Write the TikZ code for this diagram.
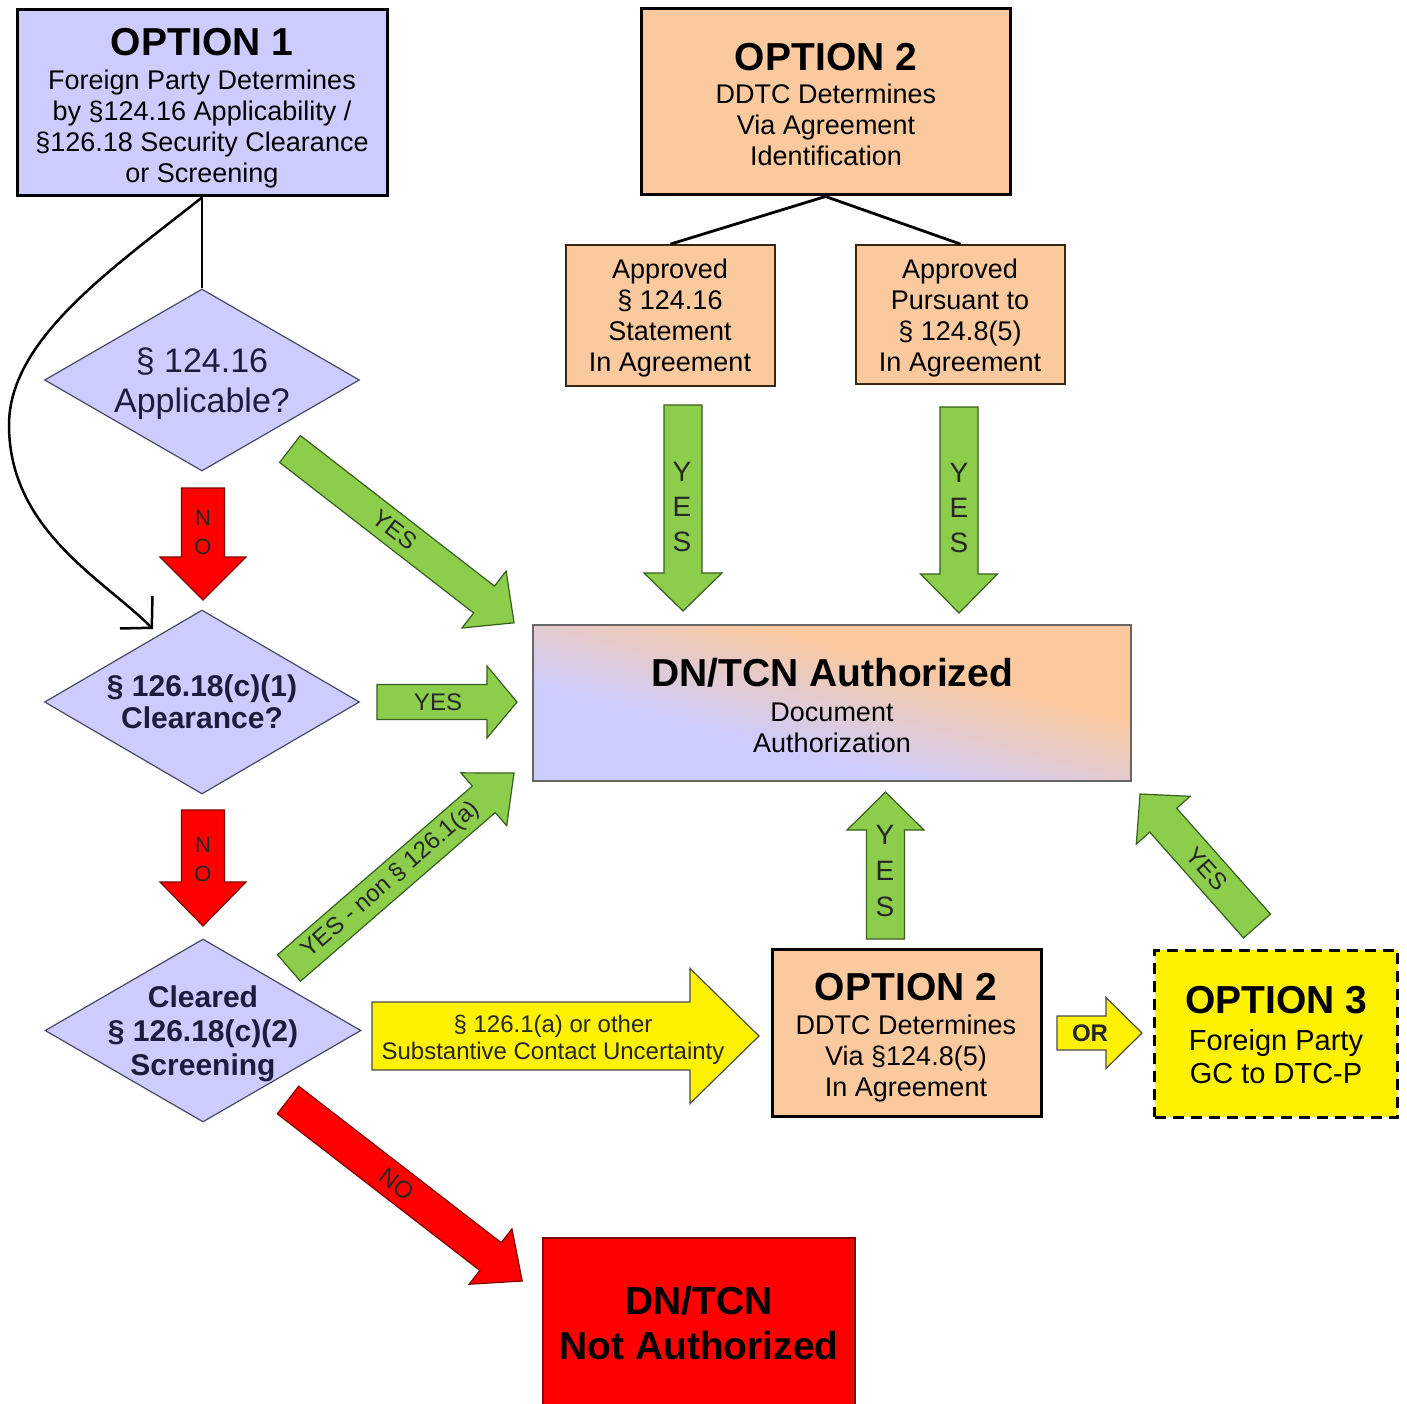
\documentclass[tikz,border=0pt]{standalone}
\usepackage{fontspec}
\setmainfont{Liberation Sans}
\usetikzlibrary{shapes.geometric,arrows.meta}
\definecolor{lav}{RGB}{204,204,255}
\definecolor{peach}{RGB}{251,201,158}
\definecolor{grn}{RGB}{140,205,75}
\definecolor{grnd}{RGB}{55,95,30}
\definecolor{redd}{RGB}{130,0,0}
\definecolor{navy}{RGB}{28,28,60}
\pgfdeclareverticalshading{authshade}{100bp}{color(0bp)=(lav); color(38bp)=(lav); color(50bp)=(lav!50!peach); color(62bp)=(peach); color(100bp)=(peach)}
\newcommand\fs[2]{\fontsize{#1}{#2}\selectfont}
% #1 name, #2 style, #3 tail centre, #4 angle, #5 length, #6 shaft half width, #7 head half width, #8 head length
\newcommand\blockarrow[8]{%
  \begin{scope}[shift={#3},rotate=#4]
    \path[#2] (0,#6) -- ({#5-#8},#6) -- ({#5-#8},#7) -- (#5,0) -- ({#5-#8},-#7) -- ({#5-#8},-#6) -- (0,-#6) -- cycle;
    \coordinate (#1) at ({(#5-#8)/2},0);
  \end{scope}}
\begin{document}
\begin{tikzpicture}[x=1pt,y=-1pt,
  obox/.style={draw=black,line width=3pt,fill=#1,inner sep=0pt},
  sbox/.style={draw=black!70!brown,line width=1.8pt,fill=peach,inner sep=0pt},
  dia/.style={diamond,draw=navy!80,line width=1.2pt,fill=lav,inner sep=0pt},
  txt/.style={anchor=north,inner sep=0pt,align=center,text=black},
  dtxt/.style={anchor=north,inner sep=0pt,align=center,text=navy},
  lbl/.style={inner sep=0pt,align=center,text=black!85},
  garrow/.style={fill=grn,draw=grnd,line width=1.2pt},
  rarrow/.style={fill=red,draw=redd,line width=1.2pt},
  yarrow/.style={fill=yellow,draw=black!70,line width=1.2pt},
  ln/.style={draw=black,line width=2.8pt}]

\path[use as bounding box,fill=white] (0,0) rectangle (1407,1404);
\clip (0,0) rectangle (1407,1404);

% ---------- boxes ----------
\node[obox=lav,minimum width=370,minimum height=186] (opt1) at (202,103) {};
\node[obox=peach,minimum width=369,minimum height=186] (opt2) at (825.5,102) {};
\node[sbox,minimum width=209,minimum height=141] (sub1) at (670.5,315.5) {};
\node[sbox,minimum width=209,minimum height=139] (sub2) at (960.5,314.5) {};
\node[draw=black!60,line width=1.5pt,inner sep=0pt,minimum width=598,minimum height=156,
      shade,shading=authshade,shading angle=-14.6] (auth) at (832,703) {};
\node[obox=peach,minimum width=269,minimum height=167] (opt2b) at (906.5,1032.5) {};
\node[obox=yellow,dash pattern=on 11pt off 7pt,minimum width=243,minimum height=167] (opt3) at (1276,1033.5) {};
\node[draw=redd,line width=2pt,fill=red,inner sep=0pt,minimum width=312,minimum height=170] (nauth) at (699,1323) {};

% ---------- diamonds ----------
\node[dia,minimum width=315,minimum height=182] (d1) at (202,380) {};
\node[dia,minimum width=315,minimum height=184] (d2) at (202,702) {};
\node[dia,minimum width=316,minimum height=183] (d3) at (203,1030.5) {};

% ---------- connectors ----------
\draw[ln] (opt1.south) -- (d1.north);
\draw[ln] (opt2.south) -- (sub1.north);
\draw[ln] (opt2.south) -- (sub2.north);
\coordinate (cend) at (153,629);
\draw[line width=2.5pt,-{Straight Barb[length=22pt,width=46pt]}]
  (opt1.south) .. controls (110,270) and (9,340) .. (9,425)
  .. controls (9,530) and (103,579) .. (cend);

% ---------- box texts ----------
\node[txt,font=\fs{27}{31}] (opt1t) at (202,28)
  {{\fs{39}{44}\bfseries OPTION 1}\\[3pt]Foreign Party Determines\\by §124.16 Applicability /\\§126.18 Security Clearance\\or Screening};
\node[txt,font=\fs{27}{31}] (opt2t) at (826,43)
  {{\fs{39}{44}\bfseries OPTION 2}\\[1.7pt]DDTC Determines\\Via Agreement\\Identification};
\node[txt,font=\fs{27}{31}] (sub1t) at (670,259) {Approved\\§ 124.16\\Statement\\In Agreement};
\node[txt,font=\fs{27}{31}] (sub2t) at (960,258.5) {Approved\\Pursuant to\\§ 124.8(5)\\In Agreement};
\node[txt,font=\fs{27}{31}] (autht) at (832,658)
  {{\fs{39}{44}\bfseries DN/TCN Authorized}\\[3.7pt]Document\\Authorization};
\node[txt,font=\fs{27}{31}] (opt2bt) at (906,973)
  {{\fs{39}{44}\bfseries OPTION 2}\\[2.7pt]DDTC Determines\\Via §124.8(5)\\In Agreement};
\node[txt,font=\fs{29}{33}] (opt3t) at (1276,986)
  {{\fs{39}{44}\bfseries OPTION 3}\\[4.4pt]Foreign Party\\GC to DTC-P};
\node[txt,font=\fs{39}{45}\bfseries] (nautht) at (699,1286) {DN/TCN\\Not Authorized};

% ---------- diamond texts ----------
\node[dtxt,font=\fs{34}{40}] (d1t) at (202,348) {§ 124.16\\Applicable?};
\node[dtxt,font=\fs{30}{32}\bfseries] (d2t) at (202,675) {§ 126.18(c)(1)\\Clearance?};
\node[dtxt,font=\fs{30}{34}\bfseries] (d3t) at (203,986) {Cleared\\§ 126.18(c)(2)\\Screening};

% ---------- block arrows ----------
\blockarrow{noA}{rarrow}{(203,488)}{-90}{112}{21.5}{43}{43}
\blockarrow{yesA}{garrow}{(290,449)}{-37.8}{283.6}{17}{36}{38}
\blockarrow{yesB}{garrow}{(377,702)}{0}{140}{17.5}{36}{30}
\blockarrow{noB}{rarrow}{(203,810)}{-90}{116}{21.5}{43}{44}
\blockarrow{yesC}{garrow}{(289,968)}{40.9}{297.7}{17.5}{35}{40}
\blockarrow{noC}{rarrow}{(288,1100)}{-37.7}{296}{17.5}{35}{40}
\blockarrow{yesD}{garrow}{(683,405)}{-90}{206}{19}{39}{38}
\blockarrow{yesE}{garrow}{(959,407)}{-90}{206}{19}{38.5}{39}
\blockarrow{yesF}{garrow}{(885.5,939)}{90}{147}{19}{38.5}{38}
\blockarrow{yesG}{garrow}{(1257,926)}{131.55}{176.4}{18}{36}{35}
\blockarrow{unc}{yarrow}{(372,1036)}{0}{387}{34}{67.5}{69}
\blockarrow{orA}{yarrow}{(1057,1033)}{0}{85}{17}{35.5}{36}

% ---------- arrow labels ----------
\node[lbl,font=\fs{22}{29}] (noAt) at (203,532.5) {N\\O};
\node[lbl,font=\fs{22}{29}] (noBt) at (203,860) {N\\O};
\node[lbl,font=\fs{24}{28},rotate=-37.8] (yesAt) at (395,530) {YES};
\node[lbl,font=\fs{24}{28}] (yesBt) at (438,702) {YES};
\node[lbl,font=\fs{24}{28},rotate=40.9] (yesCt) at (391,880) {YES - non § 126.1(a)};
\node[lbl,font=\fs{24}{28},rotate=-37.7] (noCt) at (397,1184) {NO};
\node[lbl,font=\fs{28}{35}] (yesDt) at (682,507.5) {Y\\E\\S};
\node[lbl,font=\fs{28}{35}] (yesEt) at (959,508) {Y\\E\\S};
\node[lbl,font=\fs{28}{36}] (yesFt) at (885,871) {Y\\E\\S};
\node[lbl,font=\fs{24}{28},rotate=-48.45] (yesGt) at (1207,869) {YES};
\node[lbl,font=\fs{24}{27},anchor=north] (unct) at (553,1015) {§ 126.1(a) or other\\Substantive Contact Uncertainty};
\node[lbl,font=\fs{24}{28}\bfseries] (orAt) at (1090,1033) {OR};
\end{tikzpicture}
\end{document}
